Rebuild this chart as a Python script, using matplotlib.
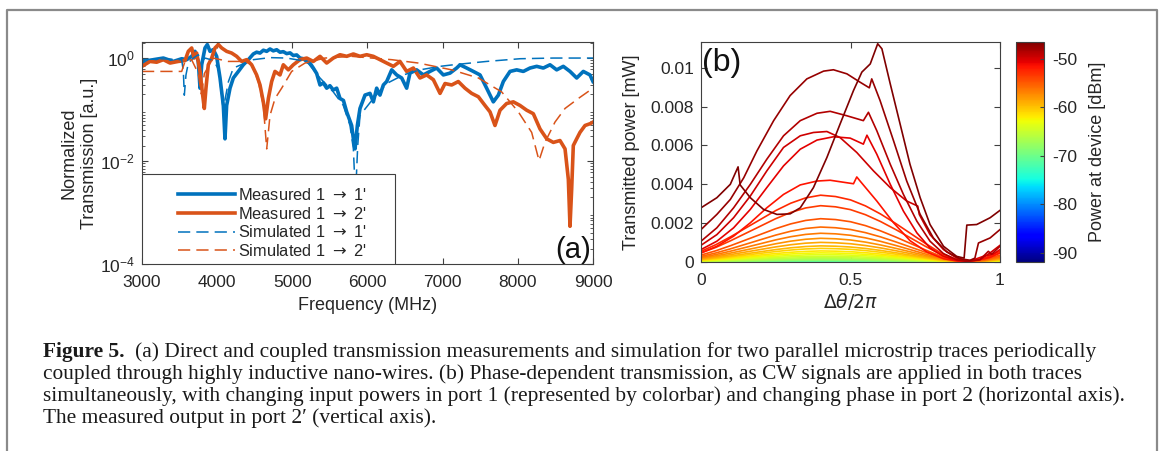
import numpy as np
import matplotlib.pyplot as plt
from matplotlib.lines import Line2D
from matplotlib.patches import Rectangle
from matplotlib.legend_handler import HandlerLine2D
from matplotlib.colors import Normalize
from matplotlib.cm import ScalarMappable
from matplotlib.ticker import FixedLocator, FuncFormatter, LogLocator, NullFormatter

plt.rcParams['font.family'] = ['Liberation Sans', 'DejaVu Sans']
plt.rcParams['axes.unicode_minus'] = False

# ---- panel (a): transmission vs frequency ----
meas11_f = [3000, 3151, 3284, 3417, 3528, 3594, 3661, 3705, 3749, 3772, 3794, 3838, 3869, 3905,
            3949, 3993, 4038, 4082, 4104, 4126, 4171, 4215, 4282, 4348, 4415, 4481, 4525, 4570,
            4615, 4659, 4703, 4747, 4792, 4836, 4880, 4925, 4970, 5013, 5058, 5102, 5147, 5191,
            5235, 5279, 5324, 5368, 5412, 5457, 5500, 5545, 5590, 5634, 5680, 5723, 5789, 5812,
            5834, 5865, 5900, 5967, 6033, 6078, 6122, 6166, 6211, 6255, 6322, 6388, 6455, 6521,
            6565, 6654, 6743, 6831, 6920, 7009, 7098, 7186, 7231, 7319, 7408, 7497, 7585, 7674,
            7741, 7807, 7896, 7985, 8073, 8162, 8251, 8339, 8428, 8517, 8605, 8694, 8783, 8871,
            8960, 9000]
meas11_v = [0.80, 0.93, 1.0, 0.86, 0.97, 0.93, 1.08, 1.35, 0.86, 0.26, 0.74, 1.57, 1.83, 1.35,
            1.46, 1.08, 0.41, 0.12, 0.027, 0.12, 0.26, 0.41, 0.55, 0.74, 0.93, 1.20, 1.30, 1.25,
            1.42, 1.35, 1.50, 1.38, 1.45, 1.30, 1.33, 1.22, 1.26, 1.12, 1.15, 1.0, 0.97, 0.86,
            0.80, 0.64, 0.50, 0.30, 0.33, 0.26, 0.29, 0.24, 0.26, 0.164, 0.15, 0.090, 0.049, 0.027,
            0.0172, 0.049, 0.105, 0.191, 0.206, 0.141, 0.26, 0.191, 0.30, 0.35, 0.59, 0.47, 0.41,
            0.26, 0.51, 0.59, 0.47, 0.55, 0.64, 0.47, 0.51, 0.64, 0.74, 0.64, 0.55, 0.47, 0.26,
            0.141, 0.191, 0.35, 0.55, 0.59, 0.55, 0.64, 0.69, 0.64, 0.74, 0.59, 0.69, 0.55, 0.41,
            0.55, 0.47, 0.35]

meas12_f = [3000, 3106, 3195, 3284, 3373, 3483, 3572, 3616, 3661, 3692, 3727, 3772, 3807, 3829,
            3851, 3882, 3927, 3971, 4016, 4060, 4126, 4193, 4259, 4326, 4392, 4459, 4525, 4570,
            4614, 4645, 4681, 4725, 4769, 4836, 4880, 4947, 5013, 5102, 5191, 5279, 5368, 5457,
            5545, 5634, 5723, 5812, 5900, 5989, 6078, 6166, 6255, 6344, 6432, 6521, 6610, 6698,
            6787, 6876, 6965, 7031, 7120, 7208, 7297, 7386, 7475, 7563, 7630, 7696, 7763, 7851,
            7940, 8029, 8118, 8206, 8295, 8384, 8472, 8561, 8628, 8672, 8694, 8716, 8738, 8783,
            8827, 8894, 8960, 9000]
meas12_v = [0.69, 0.86, 0.83, 0.93, 0.80, 0.86, 0.89, 1.35, 1.57, 1.0, 1.25, 0.55, 0.191, 0.105,
            0.26, 0.74, 1.0, 1.57, 1.83, 1.57, 1.35, 1.25, 1.08, 0.86, 0.93, 0.74, 0.47, 0.30,
            0.141, 0.066, 0.164, 0.35, 0.55, 0.47, 0.74, 0.59, 0.74, 0.93, 1.0, 0.86, 1.08, 0.80,
            1.0, 1.16, 1.08, 1.20, 1.08, 1.16, 1.08, 0.93, 0.80, 0.69, 0.86, 0.55, 0.64, 0.41,
            0.47, 0.38, 0.206, 0.32, 0.30, 0.35, 0.26, 0.206, 0.177, 0.12, 0.090, 0.049, 0.097,
            0.131, 0.141, 0.12, 0.097, 0.083, 0.042, 0.027, 0.023, 0.025, 0.0172, 0.0044, 0.00054,
            0.0028, 0.020, 0.027, 0.036, 0.049, 0.053, 0.057]

sim11_f = [3000, 3240, 3528, 3550, 3563, 3585, 3616, 3683, 3749, 3794, 3838, 3950, 4020, 4080,
           4150, 4215, 4481, 4703, 4925, 5191, 5368, 5545, 5678, 5767, 5812, 5840, 5870, 5900,
           6078, 6255, 6477, 6698, 6965, 7142, 7585, 8029, 8472, 9000]
sim11_v = [0.93, 0.97, 0.93, 0.55, 0.19, 0.47, 0.80, 1.0, 1.16, 0.86, 1.0, 0.9, 0.6, 0.1,
           0.35, 0.64, 0.93, 1.02, 1.0, 0.86, 0.41, 0.22, 0.12, 0.049, 0.0172, 0.002, 0.02, 0.077,
           0.164, 0.32, 0.47, 0.59, 0.69, 0.74, 0.86, 0.97, 1.0, 1.0]

sim12_f = [3000, 3528, 3572, 3660, 3749, 3790, 3830, 3950, 4148, 4370, 4459, 4548, 4614, 4659,
           4703, 4770, 4858, 4991, 5169, 5435, 5790, 6055, 6321, 6676, 7120, 7475, 7785, 8007,
           8184, 8282, 8361, 8494, 8628, 8805, 9000]
sim12_v = [0.55, 0.55, 0.86, 0.93, 0.5, 0.2, 0.5, 1.0, 0.86, 0.86, 0.74, 0.35, 0.12, 0.0172,
           0.077, 0.164, 0.26, 0.55, 0.80, 1.0, 1.08, 1.0, 0.93, 0.80, 0.59, 0.41, 0.22, 0.090,
           0.036, 0.0102, 0.023, 0.057, 0.105, 0.164, 0.26]

legend_labels = ["Measured 1 $\\rightarrow$ 1'", "Measured 1 $\\rightarrow$ 2'",
                 "Simulated 1 $\\rightarrow$ 1'", "Simulated 1 $\\rightarrow$ 2'"]

# ---- panel (b): transmitted power vs phase ----
# curves with jumps (highest input powers), dBm at device
curve_dbm = [-46.6, -47.6, -48.6, -49.6, -50.6, -51.6]
curve_th = [
    [0, 0.053, 0.098, 0.124, 0.131, 0.165, 0.209, 0.254, 0.298, 0.332, 0.376, 0.421, 0.465, 0.510,
     0.538, 0.566, 0.591, 0.605, 0.633, 0.666, 0.699, 0.733, 0.766, 0.811, 0.855, 0.880, 0.889,
     0.922, 0.967, 1.0],
    [0, 0.053, 0.098, 0.143, 0.187, 0.243, 0.298, 0.354, 0.410, 0.443, 0.488, 0.532, 0.563, 0.571,
     0.599, 0.644, 0.688, 0.733, 0.777, 0.822, 0.866, 0.900, 0.916, 0.928, 0.967, 1.0],
    [0, 0.053, 0.109, 0.165, 0.220, 0.276, 0.332, 0.388, 0.432, 0.488, 0.543, 0.560, 0.588, 0.633,
     0.677, 0.722, 0.766, 0.811, 0.855, 0.889, 0.933, 0.961, 0.972, 1.0],
    [0, 0.053, 0.109, 0.165, 0.220, 0.276, 0.332, 0.376, 0.421, 0.465, 0.521, 0.577, 0.633, 0.688,
     0.725, 0.730, 0.766, 0.811, 0.855, 0.889, 0.933, 0.967, 1.0],
    [0, 0.053, 0.109, 0.165, 0.220, 0.276, 0.332, 0.388, 0.443, 0.499, 0.543, 0.555, 0.588, 0.633,
     0.677, 0.722, 0.766, 0.811, 0.855, 0.900, 0.944, 0.978, 1.0],
    [0, 0.053, 0.109, 0.165, 0.220, 0.276, 0.332, 0.388, 0.432, 0.510, 0.521, 0.532, 0.588, 0.644,
     0.699, 0.755, 0.811, 0.866, 0.922, 0.967, 1.0],
]
curve_p = [
    [0.00279, 0.00331, 0.0040, 0.0049, 0.00397, 0.00331, 0.00271, 0.00245, 0.00248, 0.00279,
     0.00383, 0.00538, 0.0071, 0.00883, 0.00978, 0.0102, 0.01124, 0.01098, 0.00917, 0.0071,
     0.00503, 0.00331, 0.00193, 0.00081, 0.00029, 0.0002, 0.0019, 0.00193, 0.00228, 0.00266],
    [0.00167, 0.00245, 0.00322, 0.00434, 0.00572, 0.00728, 0.00857, 0.00943, 0.00983, 0.0099,
     0.00969, 0.00926, 0.00897, 0.00943, 0.00831, 0.00624, 0.00417, 0.00245, 0.00124, 0.00052,
     0.00017, 0.00009, 0.0002, 0.00098, 0.00124, 0.00167],
    [0.00107, 0.00176, 0.00279, 0.0040, 0.00529, 0.0065, 0.00728, 0.00766, 0.00776, 0.00753,
     0.00728, 0.00771, 0.00676, 0.00503, 0.00348, 0.0021, 0.00107, 0.00043, 0.00012, 0.00003,
     0.00012, 0.00055, 0.00040, 0.00081],
    [0.00086, 0.00141, 0.00228, 0.0034, 0.00469, 0.0059, 0.0065, 0.00667, 0.00672, 0.00641,
     0.00564, 0.00469, 0.00383, 0.00314, 0.00288, 0.00245, 0.00141, 0.00064, 0.0002, 0.00005,
     0.00012, 0.00047, 0.00086],
    [0.00064, 0.00107, 0.00176, 0.00271, 0.00383, 0.00495, 0.00581, 0.00628, 0.00645, 0.00638,
     0.00607, 0.00653, 0.00555, 0.0040, 0.00262, 0.0015, 0.00072, 0.00029, 0.00009, 0.00005,
     0.00029, 0.00041, 0.00064],
    [0.00047, 0.00081, 0.00133, 0.00202, 0.00279, 0.00348, 0.00397, 0.00417, 0.00421, 0.00403,
     0.00438, 0.00417, 0.00314, 0.00202, 0.0011, 0.00052, 0.00017, 0.00003, 0.00009, 0.00024,
     0.00047],
]

# smooth curves (lower input powers): common shape, peak per curve
smooth_th = [0, 0.05, 0.1, 0.15, 0.2, 0.25, 0.3, 0.35, 0.4, 0.45, 0.5, 0.55, 0.6, 0.65, 0.7,
             0.75, 0.8, 0.85, 0.9, 0.95, 1.0]
smooth_shape = [0.16, 0.26, 0.38, 0.51, 0.64, 0.77, 0.88, 0.96, 1.0, 0.98, 0.93, 0.84, 0.72,
                0.58, 0.43, 0.28, 0.14, 0.04, 0.01, 0.06, 0.16]
smooth_dbm = [-52.6, -53.6, -54.6, -55.6, -56.6, -57.6, -58.6, -59.6, -60.6, -61.6, -62.6, -63.6,
              -64.6, -65.6, -66.6, -67.6, -68.6, -69.6, -70.6, -71.6, -72.6, -73.6, -74.6, -75.6,
              -76.6, -77.6, -78.6, -79.6, -80.6, -81.6, -82.6, -83.6, -84.6, -85.6, -86.6, -87.6,
              -88.6, -89.6, -90.6, -91.6]
smooth_peak = [0.00344, 0.0029, 0.00223, 0.0018, 0.00148, 0.00122, 0.00101, 0.00083, 0.0007,
               0.00057, 0.00047, 0.00038, 0.0003, 0.00023, 0.00017, 0.00013, 0.0001, 0.00008,
               0.000065, 0.00005, 0.00004, 0.000032, 0.000025, 0.00002, 0.000016, 0.000013,
               0.00001, 0.000008, 0.0000065, 0.000005, 0.000004, 0.0000032, 0.0000025, 0.000002,
               0.0000016, 0.0000013, 0.000001, 0.0000008, 0.00000065, 0.0000005]

caption = [
    "(a) Direct and coupled transmission measurements and simulation for two parallel microstrip traces periodically",
    "coupled through highly inductive nano-wires. (b) Phase-dependent transmission, as CW signals are applied in both traces",
    "simultaneously, with changing input powers in port 1 (represented by colorbar) and changing phase in port 2 (horizontal axis).",
    "The measured output in port 2\u2032 (vertical axis).",
]

W, H = 1163, 451
fig = plt.figure(figsize=(W / 100, H / 100), dpi=100)
axcol = '#404040'
txtcol = '#262626'
tick_fs = 12.5
label_fs = 13


def style(ax):
    for s in ax.spines.values():
        s.set_color(axcol)
        s.set_linewidth(0.8)
    ax.tick_params(which='both', direction='in', top=True, right=True, colors=axcol,
                   labelcolor=txtcol, labelsize=tick_fs)
    ax.tick_params(which='major', length=4)
    ax.tick_params(which='minor', length=2)
    ax.tick_params(axis='x', pad=8)
    ax.tick_params(axis='y', pad=5)


# panel (a)
ax1 = fig.add_axes([142 / W, 1 - 264 / H, 451 / W, 222 / H])
blue = '#0072BD'
orange = '#D95319'
ax1.plot(meas11_f, meas11_v, color=blue, lw=2.6, zorder=2)
ax1.plot(meas12_f, meas12_v, color=orange, lw=2.6, zorder=2)
ax1.plot(sim11_f, sim11_v, color=blue, lw=1.1, dashes=(8, 4), zorder=2.5)
ax1.plot(sim12_f, sim12_v, color=orange, lw=1.1, dashes=(8, 4), zorder=2.5)
ax1.set_yscale('log')
ax1.set_xlim(3000, 9000)
ax1.set_ylim(1e-4, 2.05)
ax1.xaxis.set_major_locator(FixedLocator([3000, 4000, 5000, 6000, 7000, 8000, 9000]))
ax1.yaxis.set_major_locator(FixedLocator([1e-4, 1e-2, 1e0]))
ax1.yaxis.set_minor_locator(LogLocator(base=10, subs=np.arange(2, 10), numticks=20))
ax1.yaxis.set_minor_formatter(NullFormatter())
style(ax1)
ax1.set_xlabel('Frequency (MHz)', fontsize=label_fs, color=txtcol)
ax1.xaxis.set_label_coords(0.5, -0.15)
ax1.set_ylabel('Normalized\nTransmission [a.u.]', fontsize=label_fs, color=txtcol,
               linespacing=1.25)
ax1.yaxis.set_label_coords(-0.098, 0.5)
ax1.text(0.995, 0.0, '(a)', transform=ax1.transAxes, ha='right', va='bottom', fontsize=21,
         color='#111111')

# legend box in lower-left corner
ax1.add_patch(Rectangle((0, 0), 253 / 451, 90 / 222, transform=ax1.transAxes,
                        facecolor='white', edgecolor=axcol, lw=0.8, zorder=3))


class ShiftedLine(HandlerLine2D):
    def create_artists(self, legend, orig_handle, xdescent, ydescent, width, height,
                       fontsize, trans):
        shift = width * 0.35
        return super().create_artists(legend, orig_handle, xdescent - shift, ydescent,
                                      width - shift, height, fontsize, trans)


handles = [Line2D([], [], color=blue, lw=2.6), Line2D([], [], color=orange, lw=2.6),
           Line2D([], [], color=blue, lw=1.1, dashes=(8, 4)),
           Line2D([], [], color=orange, lw=1.1, dashes=(8, 4))]
leg = ax1.legend(handles, legend_labels, loc='lower left', bbox_to_anchor=(0, 0),
                 borderaxespad=0, frameon=False, fontsize=11.8, handlelength=5.4,
                 handletextpad=0.15, borderpad=0.3, labelspacing=0.17,
                 handler_map={Line2D: ShiftedLine()})
leg.set_zorder(4)
for t in leg.get_texts():
    t.set_color(txtcol)

# panel (b)
ax2 = fig.add_axes([701 / W, 1 - 262 / H, 299 / W, 220 / H])
cmap = plt.get_cmap('jet')
norm = Normalize(-91.85, -46.55)
for dbm, pk in zip(smooth_dbm[::-1], smooth_peak[::-1]):
    ax2.plot(smooth_th, [pk * s for s in smooth_shape], color=cmap(norm(dbm)), lw=1.2,
             zorder=2)
for dbm, th, p in list(zip(curve_dbm, curve_th, curve_p))[::-1]:
    ax2.plot(th, p, color=cmap(norm(dbm)), lw=1.2, zorder=2)
ax2.set_xlim(0, 1)
ax2.set_ylim(0, 0.01133)
ax2.xaxis.set_major_locator(FixedLocator([0, 0.5, 1]))
ax2.yaxis.set_major_locator(FixedLocator([0, 0.002, 0.004, 0.006, 0.008, 0.01]))
fmt = FuncFormatter(lambda v, p: '%g' % round(v, 6))
ax2.xaxis.set_major_formatter(fmt)
ax2.yaxis.set_major_formatter(fmt)
style(ax2)
ax2.set_xlabel(r'$\Delta\theta/2\pi$', fontsize=label_fs + 0.5, color=txtcol)
ax2.xaxis.set_label_coords(0.5, -0.13)
ax2.set_ylabel('Transmitted power [mW]', fontsize=label_fs, color=txtcol)
ax2.yaxis.set_label_coords(-0.205, 0.5)
ax2.text(0.005, 0.975, '(b)', transform=ax2.transAxes, ha='left', va='top', fontsize=23,
         color='#111111')

# colorbar
cax = fig.add_axes([1016 / W, 1 - 262 / H, 28 / W, 220 / H])
cb = fig.colorbar(ScalarMappable(norm=norm, cmap=cmap), cax=cax)
cb.set_ticks([-90, -80, -70, -60, -50])
cb.outline.set_edgecolor(axcol)
cb.outline.set_linewidth(0.8)
cax.tick_params(direction='in', length=3, colors=axcol, labelcolor=txtcol, labelsize=tick_fs,
                pad=6)
cb.set_label('Power at device [dBm]', fontsize=label_fs, color=txtcol)
cax.yaxis.set_label_coords(2.6, 0.5)

# surrounding frame (open at the bottom)
fig.add_artist(Line2D([7 / W, 7 / W, 1157 / W, 1157 / W], [0, 1 - 10 / H, 1 - 10 / H, 0],
                      transform=fig.transFigure, color='#8a8a8a', lw=1.6))

# caption
serif = ['Liberation Serif', 'DejaVu Serif']
cap_fs = 15.4
y0 = 357
dy = 22
r = fig.canvas.get_renderer()
tb = fig.text(43 / W, 1 - y0 / H, 'Figure 5.', fontsize=cap_fs, family=serif, weight='bold',
              color='#1a1a1a', va='baseline')
bx = tb.get_window_extent(r).x1 / W
fig.text(bx + 10 / W, 1 - y0 / H, caption[0], fontsize=cap_fs, family=serif, color='#1a1a1a',
         va='baseline')
for i, line in enumerate(caption[1:]):
    fig.text(43 / W, 1 - (y0 + dy * (i + 1)) / H, line, fontsize=cap_fs, family=serif,
             color='#1a1a1a', va='baseline')

fig.savefig('out.png', dpi=100)
